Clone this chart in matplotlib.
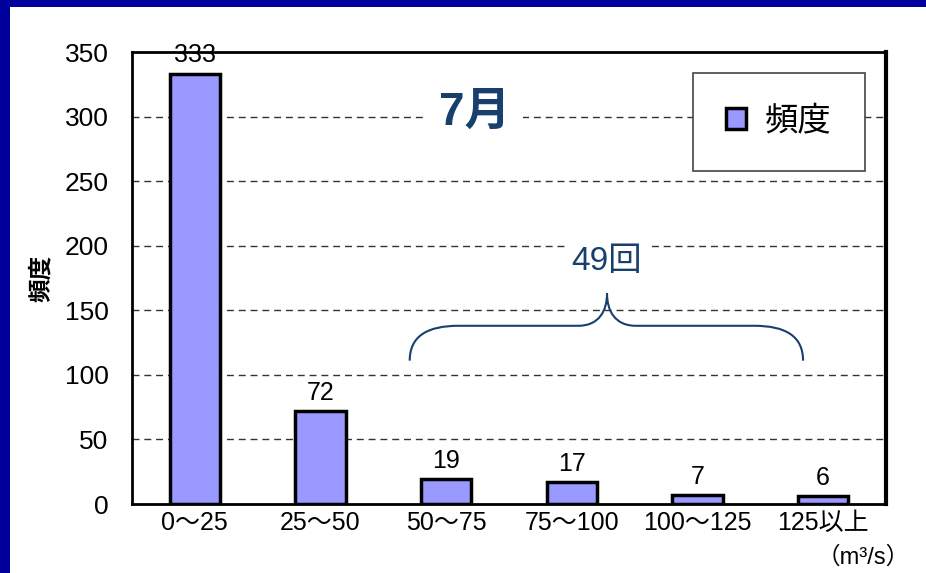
import numpy as np
import matplotlib.pyplot as plt
import matplotlib.patches as patches
from matplotlib.path import Path

plt.rcParams['font.family'] = ['Liberation Sans', 'Noto Sans CJK JP', 'DejaVu Sans']

categories = ['0～25', '25～50', '50～75', '75～100', '100～125', '125以上']
counts = [333, 72, 19, 17, 7, 6]
y_ticks = [0, 50, 100, 150, 200, 250, 300, 350]

bar_color = '#9999FF'
note_color = '#17406D'

fig = plt.figure(figsize=(9.26, 5.73), dpi=100)
fig.patch.set_facecolor('white')

# dark blue slide frame along the left and top edges
fig.patches.append(patches.Rectangle((0, 0), 10 / 926, 1, transform=fig.transFigure,
                                     facecolor='#00009C', edgecolor='none', zorder=0))
fig.patches.append(patches.Rectangle((0, 1 - 7 / 573), 1, 7 / 573, transform=fig.transFigure,
                                     facecolor='#00009C', edgecolor='none', zorder=0))

ax = fig.add_axes([132 / 926, 69 / 573, 754 / 926, 452 / 573])
x = np.arange(len(categories))
bars = ax.bar(x, counts, width=0.4, color=bar_color, edgecolor='black',
              linewidth=2.5, zorder=3, label='頻度')

ax.set_xlim(-0.5, len(categories) - 0.5)
ax.set_ylim(0, 350)
ax.set_yticks(y_ticks)
ax.set_xticks(x)
ax.set_xticklabels(categories, fontsize=18)
ax.tick_params(axis='y', length=0, pad=17, labelsize=19)
ax.tick_params(axis='x', length=0, pad=5)

for v in y_ticks[1:-1]:
    ax.axhline(v, color='#333333', linewidth=1, linestyle=(0, (5, 3.5)), zorder=1)

for side in ['left', 'bottom', 'top']:
    ax.spines[side].set_linewidth(2)
ax.spines['right'].set_linewidth(3)

for xi, c in zip(x, counts):
    ax.text(xi, c + 5, str(c), ha='center', va='bottom', fontsize=18, zorder=4)

ax.set_ylabel('頻度', fontsize=17, fontweight='bold')
ax.yaxis.set_label_coords(-0.105, 0.5)

# month title and bracket over the higher ranges
ax.text(2.23, 303, '7月', ha='center', va='center', fontsize=33, fontweight='bold',
        color=note_color, zorder=5,
        bbox=dict(facecolor='white', edgecolor='none', pad=9))
ax.text(3.28, 188, '49回', ha='center', va='center', fontsize=24,
        color=note_color, zorder=5,
        bbox=dict(facecolor='white', edgecolor='none', pad=5))

xl, xr, xm = 1.71, 4.84, 3.28
yb, yh, yp = 111, 138, 163
verts = [(xl, yb), (xl, 130), (1.85, yh), (2.1, yh),
         (3.05, yh),
         (3.22, yh), (xm, 150), (xm, yp),
         (xm, 150), (3.34, yh), (3.51, yh),
         (4.45, yh),
         (4.7, yh), (xr, 130), (xr, yb)]
codes = [Path.MOVETO, Path.CURVE4, Path.CURVE4, Path.CURVE4,
         Path.LINETO,
         Path.CURVE4, Path.CURVE4, Path.CURVE4,
         Path.CURVE4, Path.CURVE4, Path.CURVE4,
         Path.LINETO,
         Path.CURVE4, Path.CURVE4, Path.CURVE4]
ax.add_patch(patches.PathPatch(Path(verts, codes), facecolor='none',
                               edgecolor=note_color, linewidth=1.5, zorder=5))

leg = ax.legend(loc='upper right', bbox_to_anchor=(0.972, 0.953), fontsize=24,
                frameon=True, fancybox=False, borderpad=1.0, handlelength=0.6,
                handleheight=0.6, handletextpad=0.55, borderaxespad=0)
leg.get_frame().set_edgecolor('#444444')
leg.get_frame().set_linewidth(1.2)
leg.get_frame().set_alpha(1)
leg.set_zorder(6)

fig.text(910 / 926, 16 / 573, '（m³/s）', ha='right', va='center', fontsize=17)

fig.savefig('out.png', dpi=100)
